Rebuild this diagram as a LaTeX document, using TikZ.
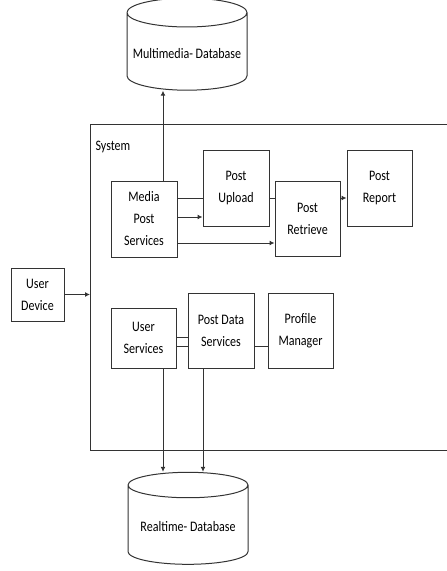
\documentclass[tikz,border=0pt]{standalone}
\usepackage{fontspec}
\setmainfont[FakeStretch=0.83]{Carlito}
\usetikzlibrary{shapes.geometric,arrows.meta}

\tikzset{
  box/.style={draw=black!80, line width=1pt, align=center, minimum width=66pt, minimum height=75pt, inner sep=2pt, font=\fontsize{14.5}{22}\selectfont},
  db/.style={cylinder, shape border rotate=90, aspect=0.25, draw=black!80, line width=1pt, minimum width=120pt, minimum height=92pt, font=\fontsize{14.5}{22}\selectfont},
  line/.style={draw=black!80, line width=1pt},
  arr/.style={line, -{Latex[length=5pt,width=5pt]}}
}

\begin{document}
\begin{tikzpicture}[x=1pt, y=-1pt]
	    \useasboundingbox (0,0) rectangle (447,571);

	    % databases
	    \node[db] (mmdb) at (187,54) {Multimedia- Database};
	    \node[db] (rtdb) at (188,527) {Realtime- Database};

	    % system frame
	    \node[line, draw, minimum width=380pt, minimum height=326pt, anchor=north west, inner sep=0pt] (system) at (90,124) {};
	    \node[anchor=west, font=\fontsize{14.5}{22}\selectfont] (syslabel) at (92,147) {System};

	    \node[box, minimum height=76pt] (mps) at (144,219) {Media\\Post\\Services};
	    \node[box, minimum height=76pt] (up) at (236,188) {Post\\Upload};
	    \node[box, minimum width=65pt] (ret) at (307.5,218.5) {Post\\Retrieve};
	    \node[box, minimum width=65pt, minimum height=76pt] (rep) at (379.5,188) {Post\\Report};
	    \node[box, minimum width=53pt, minimum height=53pt] (dev) at (37.5,294.5) {User\\Device};
	    \node[box, minimum width=65pt, minimum height=60pt] (us) at (143.5,338) {User\\Services};
	    \node[box] (pds) at (221,330.5) {Post Data\\Services};
	    \node[box, minimum width=65pt] (pm) at (300.5,330.5) {Profile\\Manager};

	    \draw[arr] (mps.north -| 163,0) -- (mmdb.south -| 163,0);
	    \draw[line] (mps.east |- 0,198) -- (up.west |- 0,198);
	    \draw[arr] (mps.east |- 0,217) -- (up.west |- 0,217);
	    \draw[arr] (mps.east |- 0,243) -- (ret.west |- 0,243);
	    \draw[line] (up.east |- 0,198) -- (ret.west |- 0,198);
	    \draw[arr] (ret.east |- 0,198) -- (rep.west |- 0,198);
	    \draw[arr] (dev.east) -- (dev.east -| system.west);
	    \draw[line] (us.east |- 0,337) -- (pds.west |- 0,337);
	    \draw[line] (us.east |- 0,346) -- (pds.west |- 0,346);
	    \draw[line] (pds.east |- 0,346) -- (pm.west |- 0,346);
	    \draw[arr] (us.south -| 163,0) -- (rtdb.north -| 163,0);
	    \draw[arr] (pds.south -| 203,0) -- (rtdb.north -| 203,0);
\end{tikzpicture}
\end{document}
